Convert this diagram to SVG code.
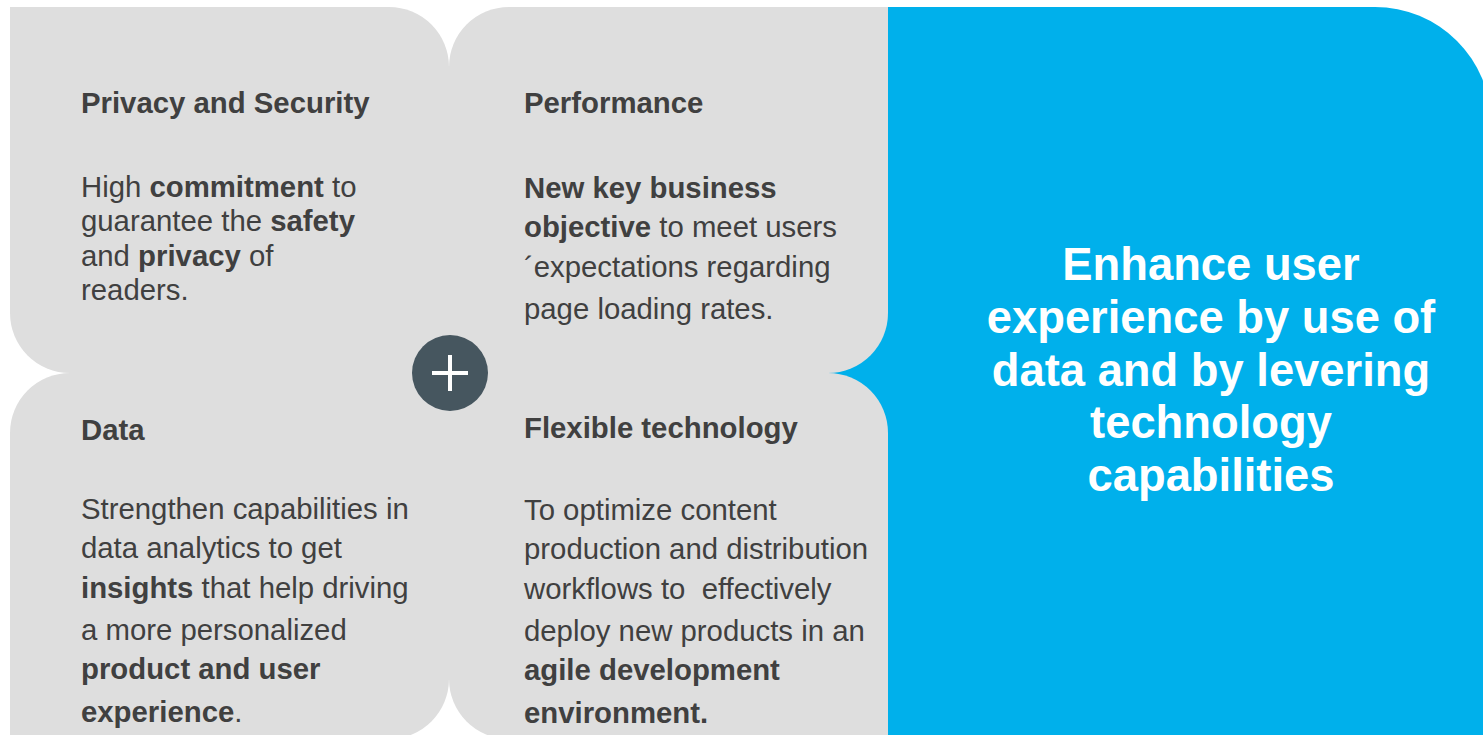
<svg xmlns="http://www.w3.org/2000/svg" width="1483" height="735" viewBox="0 0 1483 735">
<style>
  .quad { fill: #DEDEDE; }
  .t { font-family: "Liberation Sans", Arial, sans-serif; font-size: 29.33px; fill: #404040; }
  .h { font-weight: bold; }
  .b { font-weight: bold; }
  .big { font-family: "Liberation Sans", Arial, sans-serif; font-size: 45.33px; font-weight: bold; fill: #FFFFFF; text-anchor: middle; }
</style>
<rect width="1483" height="735" fill="#FFFFFF"/>
<g id="goal">
  <path d="M800,7 H1375 A116,116 0 0 1 1491,123 V740 H800 Z" fill="#00B0EB"/>
  <text class="big" x="1211" y="280">Enhance user</text>
  <text class="big" x="1211" y="333">experience by use of</text>
  <text class="big" x="1211" y="386">data and by levering</text>
  <text class="big" x="1211" y="438">technology</text>
  <text class="big" x="1211" y="491">capabilities</text>
</g>
<g id="privacy">
  <path class="quad" d="M10,7 H389 A60,60 0 0 1 449,67 V373 H70 A60,60 0 0 1 10,313 Z"/>
  <text class="t h" x="81" y="113">Privacy and Security</text>
  <text class="t" x="81" y="196.5">High <tspan class="b">commitment</tspan> to</text>
  <text class="t" x="81" y="231">guarantee the <tspan class="b">safety</tspan></text>
  <text class="t" x="81" y="265.5">and <tspan class="b">privacy</tspan> of</text>
  <text class="t" x="81" y="300">readers.</text>
</g>
<g id="performance">
  <path class="quad" d="M509,7 H888 V313 A60,60 0 0 1 828,373 H449 V67 A60,60 0 0 1 509,7 Z"/>
  <text class="t h" x="524" y="113">Performance</text>
  <text class="t b" x="524" y="198">New key business</text>
  <text class="t" x="524" y="237"><tspan class="b">objective</tspan> to meet users</text>
  <text class="t" x="524" y="277">´expectations regarding</text>
  <text class="t" x="524" y="319">page loading rates.</text>
</g>
<g id="data">
  <path class="quad" d="M70,373 H449 V679 A60,60 0 0 1 389,739 H10 V433 A60,60 0 0 1 70,373 Z"/>
  <text class="t h" x="81" y="440">Data</text>
  <text class="t" x="81" y="519">Strengthen capabilities in</text>
  <text class="t" x="81" y="558">data analytics to get</text>
  <text class="t" x="81" y="598"><tspan class="b">insights</tspan> that help driving</text>
  <text class="t" x="81" y="640">a more personalized</text>
  <text class="t b" x="81" y="679">product and user</text>
  <text class="t" x="81" y="722"><tspan class="b">experience</tspan>.</text>
</g>
<g id="flexible">
  <path class="quad" d="M449,373 H828 A60,60 0 0 1 888,433 V739 H509 A60,60 0 0 1 449,679 Z"/>
  <text class="t h" x="524" y="438">Flexible technology</text>
  <text class="t" x="524" y="520">To optimize content</text>
  <text class="t" x="524" y="559">production and distribution</text>
  <text class="t" x="524" y="599" style="white-space:pre">workflows to  effectively</text>
  <text class="t" x="524" y="641">deploy new products in an</text>
  <text class="t b" x="524" y="680">agile development</text>
  <text class="t b" x="524" y="723">environment.</text>
</g>
<g id="plus">
  <circle cx="450" cy="373" r="38" fill="#46565F"/>
  <path d="M432,373 H468 M450,355 V391" stroke="#FFFFFF" stroke-width="4" fill="none"/>
</g>
<g id="connectors"></g>
</svg>
